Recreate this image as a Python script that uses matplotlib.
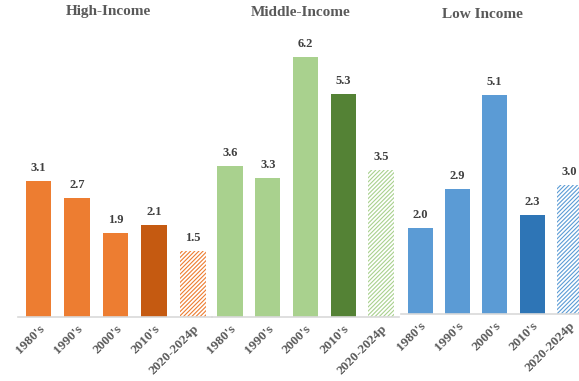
import matplotlib
matplotlib.use("Agg")
import matplotlib.pyplot as plt
import numpy as np

plt.rcParams['font.family'] = ['Liberation Serif', 'DejaVu Serif']
plt.rcParams['hatch.linewidth'] = 0.8

periods = ["1980's", "1990's", "2000's", "2010's", "2020-2024p"]
groups = ["High-Income", "Middle-Income", "Low Income"]
high_vals = [3.1, 2.7, 1.9, 2.1, 1.5]
middle_vals = [3.6, 3.3, 6.2, 5.3, 3.5]
low_vals = [2.0, 2.9, 5.1, 2.3, 3.0]

base_colors = ["#ED7D31", "#A9D18E", "#5B9BD5"]
dark_colors = ["#C55A11", "#548235", "#2E75B6"]

W, H = 579, 381
fig = plt.figure(figsize=(W / 100, H / 100), dpi=100)

# panel layout in pixels: (left, right, baseline_y_from_top, px_per_unit, xlim)
panels = [
    (18, 212, 317, 44.0, (-0.53, 4.5)),
    (212, 399, 317, 42.0, (-0.48, 4.48)),
    (401, 588, 314, 43.0, (-0.51, 4.5)),
]
title_pos = [(108, 12), (301, 13), (482, 15)]
all_vals = [high_vals, middle_vals, low_vals]

for i, (vals, (l, r, base, ppu, xl)) in enumerate(zip(all_vals, panels)):
    top = 40
    ax = fig.add_axes([l / W, (H - base) / H, (r - l) / W, (base - top) / H])
    ymax = (base - top) / ppu
    x = np.arange(len(periods))
    for j, v in enumerate(vals):
        if j == 4:
            ax.bar(x[j], v, width=0.67, facecolor='white', edgecolor=base_colors[i],
                   hatch='////////', linewidth=0)
        else:
            c = dark_colors[i] if j == 3 else base_colors[i]
            ax.bar(x[j], v, width=0.67, color=c, linewidth=0)
        ax.annotate(f"{v:.1f}", (x[j], v), xytext=(0, 5), textcoords='offset points',
                    ha='center', va='bottom', fontsize=9, fontweight='bold', color='#404040')
    ax.set_xlim(*xl)
    ax.set_ylim(0, ymax)
    ax.set_xticks(x)
    ax.set_xticklabels(periods, rotation=45, ha='right', rotation_mode='anchor',
                       fontsize=9.5, fontweight='bold', color='#595959')
    ax.tick_params(axis='x', length=0, pad=4)
    ax.set_yticks([])
    for s in ['top', 'right', 'left']:
        ax.spines[s].set_visible(False)
    ax.spines['bottom'].set_color('#D9D9D9')
    ax.spines['bottom'].set_linewidth(1.2)
    ax.patch.set_alpha(0)
    tx, ty = title_pos[i]
    fig.text(tx / W, 1 - ty / H, groups[i], ha='center', va='center', fontsize=11,
             fontweight='bold', color='#595959')

fig.savefig("out.png", dpi=100)
